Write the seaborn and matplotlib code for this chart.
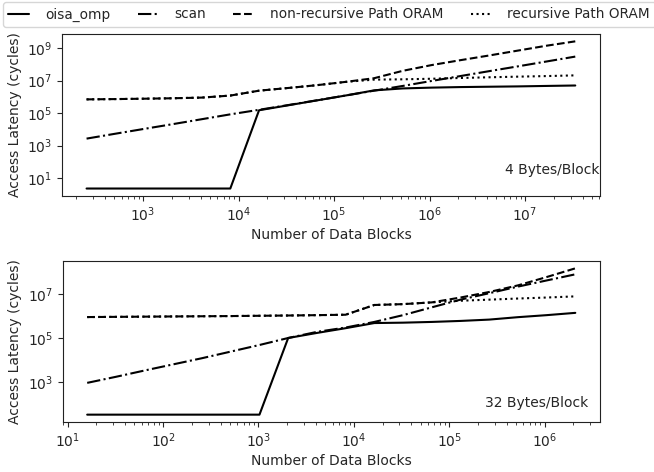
import matplotlib
matplotlib.use("Agg")
import matplotlib.pyplot as plt
import seaborn as sns
import pandas as pd

# number of data blocks (powers of two)
blocks_4 = [2**k for k in range(8, 26)]
blocks_32 = [2**k for k in range(4, 22)]

series = ["oisa_omp", "scan", "non-recursive Path ORAM", "recursive Path ORAM"]

# 4 Bytes/Block, access latency in cycles
oisa_4 = [2.3, 2.3, 2.3, 2.3, 2.3, 2.3, 1.5e5, 3.0e5, 6.0e5, 1.2e6, 2.5e6,
          3.3e6, 3.7e6, 4.0e6, 4.2e6, 4.4e6, 4.7e6, 5.0e6]
scan_4 = [2.7e3, 5.4e3, 1.07e4, 2.1e4, 4.2e4, 8.4e4, 1.6e5, 3.1e5, 6.1e5,
          1.2e6, 2.4e6, 4.7e6, 9.5e6, 1.9e7, 3.8e7, 7.5e7, 1.5e8, 3.0e8]
nonrec_4 = [7.0e5, 7.3e5, 7.7e5, 8.2e5, 9.0e5, 1.2e6, 2.4e6, 3.5e6, 5.2e6,
            8.3e6, 1.4e7, 4.0e7, 9.0e7, 1.8e8, 3.5e8, 7.0e8, 1.4e9, 2.6e9]
rec_4 = [7.0e5, 7.3e5, 7.7e5, 8.2e5, 9.0e5, 1.2e6, 2.4e6, 3.5e6, 5.2e6,
         8.3e6, 1.15e7, 1.2e7, 1.3e7, 1.45e7, 1.6e7, 1.75e7, 1.9e7, 2.1e7]

# 32 Bytes/Block
oisa_32 = [32, 32, 32, 32, 32, 32, 32, 1.0e5, 1.7e5, 2.8e5, 4.8e5, 5.0e5,
           5.4e5, 6.0e5, 6.9e5, 8.9e5, 1.1e6, 1.4e6]
scan_32 = [900, 1.7e3, 3.3e3, 6.3e3, 1.2e4, 2.4e4, 4.8e4, 1.0e5, 1.9e5,
           3.0e5, 5.4e5, 1.1e6, 2.5e6, 5.6e6, 1.1e7, 2.2e7, 4.2e7, 8.0e7]
nonrec_32 = [9.0e5, 9.2e5, 9.4e5, 9.6e5, 9.8e5, 1.0e6, 1.03e6, 1.06e6, 1.1e6,
             1.15e6, 3.2e6, 3.5e6, 4.2e6, 7.0e6, 1.25e7, 2.5e7, 6.0e7, 1.5e8]
rec_32 = [9.0e5, 9.2e5, 9.4e5, 9.6e5, 9.8e5, 1.0e6, 1.03e6, 1.06e6, 1.1e6,
          1.15e6, 3.2e6, 3.5e6, 4.2e6, 5.0e6, 5.6e6, 6.3e6, 7.0e6, 7.9e6]

panels = [
    (blocks_4, [oisa_4, scan_4, nonrec_4, rec_4], "4 Bytes/Block", (1.0, 0.16)),
    (blocks_32, [oisa_32, scan_32, nonrec_32, rec_32], "32 Bytes/Block", (0.978, 0.117)),
]

sns.set_style("ticks")
plt.rcParams["font.family"] = ["DejaVu Sans"]

fig = plt.figure(figsize=(6.54, 4.72), dpi=100)
ax_top = fig.add_axes([0.095, 0.585, 0.822, 0.343])
ax_bot = fig.add_axes([0.096, 0.106, 0.821, 0.341])

dash_styles = ["", (6.4, 1.6, 1.0, 1.6), (3.7, 1.6), (1.0, 1.65)]

for ax, (blocks, vals, note, pos) in zip([ax_top, ax_bot], panels):
    frames = []
    for name, v in zip(series, vals):
        frames.append(pd.DataFrame({"blocks": blocks, "cycles": v, "series": name}))
    df = pd.concat(frames, ignore_index=True)
    sns.lineplot(data=df, x="blocks", y="cycles", style="series",
                 style_order=series, dashes=dash_styles, color="black",
                 linewidth=1.5, estimator=None, legend=False, ax=ax)
    ax.set_xscale("log")
    ax.set_yscale("log")
    ax.set_xlabel("Number of Data Blocks", labelpad=3)
    ax.set_ylabel("Access Latency (cycles)")
    ax.text(pos[0], pos[1], note, transform=ax.transAxes, ha="right", va="center",
            fontsize=10)
    for s in ax.spines.values():
        s.set_color("#222222")

lines = ax_top.get_lines()[:4]
fig.legend(lines, series, loc="upper left", ncol=4,
           bbox_to_anchor=(3 / 654, 1 - 2 / 472), borderaxespad=0,
           fontsize=9.8, handlelength=1.5, handletextpad=1.2, columnspacing=2.0)

fig.savefig("out.png", dpi=100)
